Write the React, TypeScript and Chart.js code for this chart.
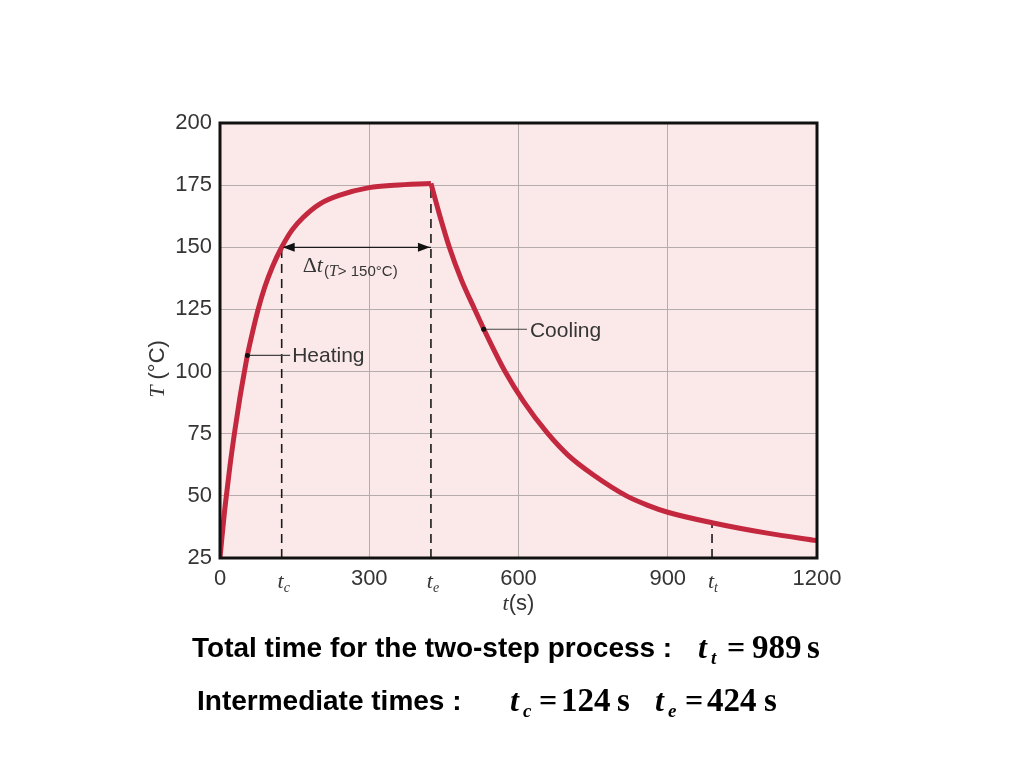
import { useEffect, useRef } from "react";
import { Chart, registerables } from "chart.js";

Chart.register(...registerables);

// ---- data ----
const heatingTime = [0, 4, 9, 14, 20, 30, 40, 50, 55, 65, 76, 90, 105, 124, 145, 167, 201, 241, 300, 350, 424];
const heatingTemp = [25, 33.5, 43.5, 52, 62, 76.5, 89.5, 101, 106.5, 115.5, 124.5, 134, 142, 150, 157, 162, 167.5, 171, 174, 175, 175.7];
const coolingTime = [424, 440, 461, 485, 512, 540, 573, 610, 657, 700, 750, 817, 860, 900, 989, 1100, 1200];
const coolingTemp = [175.7, 164, 150, 137, 125, 113, 100, 88, 75.5, 66.3, 58.5, 50, 46.2, 43.4, 39.2, 35, 32];
const markTimes = [124, 424, 989];
const markTemps = [150, 175.7, 39.2];
const markSubs = ["c", "e", "t"];
const xTickValues = [0, 300, 600, 900, 1200];
const yTickValues = [25, 50, 75, 100, 125, 150, 175, 200];
const heatingLabelAt = { t: 55, T: 106.5, end: 141 };
const coolingLabelAt = { t: 530, T: 117, end: 617 };
const deltaLevel = 150;

const CURVE = "#c3283f";
const BG = "#fbe9ea";
const GRID = "#b5acad";
const TXT = "#353535";
const SANS = "'Liberation Sans', Arial, sans-serif";
const SERIF = "'Liberation Serif', 'Times New Roman', serif";

const pts = (xs: number[], ys: number[]) => xs.map((x, i) => ({ x, y: ys[i] }));

const decor = {
  id: "decor",
  beforeDraw(chart: any) {
    const { ctx, chartArea: a } = chart;
    ctx.save();
    ctx.fillStyle = BG;
    ctx.fillRect(a.left, a.top, a.right - a.left, a.bottom - a.top);
    ctx.restore();
  },
  afterDraw(chart: any) {
    const { ctx, chartArea: a, scales } = chart;
    const xs = scales.x;
    const ys = scales.y;
    ctx.save();
    // frame
    ctx.strokeStyle = "#111";
    ctx.lineWidth = 3;
    ctx.strokeRect(a.left, a.top, a.right - a.left, a.bottom - a.top);

    // arrowheads
    const yA = ys.getPixelForValue(deltaLevel);
    const xL = xs.getPixelForValue(markTimes[0]);
    const xR = xs.getPixelForValue(markTimes[1]);
    ctx.fillStyle = "#111";
    ctx.beginPath();
    ctx.moveTo(xL + 1, yA);
    ctx.lineTo(xL + 13, yA - 4.5);
    ctx.lineTo(xL + 13, yA + 4.5);
    ctx.closePath();
    ctx.fill();
    ctx.beginPath();
    ctx.moveTo(xR - 1, yA);
    ctx.lineTo(xR - 13, yA - 4.5);
    ctx.lineTo(xR - 13, yA + 4.5);
    ctx.closePath();
    ctx.fill();

    ctx.fillStyle = TXT;
    ctx.textBaseline = "alphabetic";
    // t_c, t_e, t_t tick labels
    markTimes.forEach((t, i) => {
      const px = xs.getPixelForValue(t);
      ctx.font = `italic 22px ${SERIF}`;
      ctx.textAlign = "right";
      ctx.fillText("t", px + 2, 588);
      ctx.font = `italic 14px ${SERIF}`;
      ctx.textAlign = "left";
      ctx.fillText(markSubs[i], px + 2, 592);
    });

    // Δt label
    const dx = xs.getPixelForValue(markTimes[0]) + 21;
    ctx.textAlign = "left";
    ctx.font = `22px ${SERIF}`;
    ctx.fillText("Δ", dx, 272);
    let w = ctx.measureText("Δ").width;
    ctx.font = `italic 22px ${SERIF}`;
    ctx.fillText("t", dx + w, 272);
    w += ctx.measureText("t").width + 1;
    ctx.font = `15px ${SANS}`;
    ctx.fillText("(", dx + w, 276);
    w += ctx.measureText("(").width;
    ctx.font = `italic 16px ${SERIF}`;
    ctx.fillText("T", dx + w, 276);
    w += ctx.measureText("T").width;
    ctx.font = `15px ${SANS}`;
    ctx.fillText("> 150°C)", dx + w, 276);

    // Heating / Cooling labels
    ctx.font = `21px ${SANS}`;
    ctx.fillText("Heating", xs.getPixelForValue(heatingLabelAt.end) + 2, ys.getPixelForValue(heatingLabelAt.T) + 7);
    ctx.fillText("Cooling", xs.getPixelForValue(coolingLabelAt.end) + 3, ys.getPixelForValue(coolingLabelAt.T) + 8);

    // x axis title t(s)
    ctx.font = `italic 22px ${SERIF}`;
    const tW = ctx.measureText("t").width;
    ctx.font = `22px ${SANS}`;
    const sW = ctx.measureText("(s)").width;
    const cx = (a.left + a.right) / 2;
    let x0 = cx - (tW + sW) / 2;
    ctx.font = `italic 22px ${SERIF}`;
    ctx.fillText("t", x0, 610);
    ctx.font = `22px ${SANS}`;
    ctx.fillText("(s)", x0 + tW, 610);

    // y axis title T (°C)
    ctx.translate(164, 369);
    ctx.rotate(-Math.PI / 2);
    ctx.font = `italic 22px ${SERIF}`;
    const TW = ctx.measureText("T").width;
    ctx.font = `22px ${SANS}`;
    const CW = ctx.measureText(" (°C)").width;
    x0 = -(TW + CW) / 2;
    ctx.font = `italic 22px ${SERIF}`;
    ctx.fillText("T", x0, 0);
    ctx.font = `22px ${SANS}`;
    ctx.fillText(" (°C)", x0 + TW, 0);
    ctx.restore();
  },
};

export default function App() {
  const ref = useRef<HTMLCanvasElement>(null);
  useEffect(() => {
    if (!ref.current) return;
    const dashed = markTimes.map((t, i) => ({
      data: [
        { x: t, y: 25 },
        { x: t, y: markTemps[i] },
      ],
      borderColor: "#1a1a1a",
      borderWidth: 1.6,
      borderDash: [9, 6],
      pointRadius: 0,
      order: 3,
    }));
    const chart = new Chart(ref.current, {
      type: "line",
      data: {
        datasets: [
          {
            label: "Heating",
            data: pts(heatingTime, heatingTemp),
            borderColor: CURVE,
            borderWidth: 5,
            pointRadius: 0,
            cubicInterpolationMode: "monotone",
            order: 1,
          },
          {
            label: "Cooling",
            data: pts(coolingTime, coolingTemp),
            borderColor: CURVE,
            borderWidth: 5,
            pointRadius: 0,
            cubicInterpolationMode: "monotone",
            order: 1,
          },
          ...dashed,
          {
            data: [
              { x: markTimes[0], y: deltaLevel },
              { x: markTimes[1], y: deltaLevel },
            ],
            borderColor: "#1a1a1a",
            borderWidth: 1.3,
            pointRadius: 0,
            order: 2,
          },
          {
            data: [
              { x: heatingLabelAt.t, y: heatingLabelAt.T },
              { x: heatingLabelAt.end, y: heatingLabelAt.T },
            ],
            borderColor: "#444",
            borderWidth: 1.1,
            pointRadius: [2.5, 0],
            pointBackgroundColor: "#111",
            pointBorderWidth: 0,
            order: 0,
          },
          {
            data: [
              { x: coolingLabelAt.t, y: coolingLabelAt.T },
              { x: coolingLabelAt.end, y: coolingLabelAt.T },
            ],
            borderColor: "#444",
            borderWidth: 1.1,
            pointRadius: [2.5, 0],
            pointBackgroundColor: "#111",
            pointBorderWidth: 0,
            order: 0,
          },
        ] as any,
      },
      options: {
        animation: false,
        responsive: false,
        events: [],
        layout: { padding: { left: 0, top: 123, right: 207, bottom: 0 } },
        plugins: { legend: { display: false }, tooltip: { enabled: false } },
        scales: {
          x: {
            type: "linear",
            min: 0,
            max: 1200,
            afterBuildTicks: (s: any) => {
              s.ticks = xTickValues.map((v) => ({ value: v }));
            },
            afterFit: (s: any) => {
              s.height = 768 - 558;
            },
            grid: { color: GRID, lineWidth: 1, drawTicks: false },
            border: { display: false },
            ticks: {
              padding: 8,
              color: TXT,
              font: { family: SANS, size: 22 },
              maxRotation: 0,
              autoSkip: false,
              callback: (v: any) => String(v),
            },
          },
          y: {
            type: "linear",
            min: 25,
            max: 200,
            afterBuildTicks: (s: any) => {
              s.ticks = yTickValues.map((v) => ({ value: v }));
            },
            afterFit: (s: any) => {
              s.width = 220;
            },
            grid: { color: GRID, lineWidth: 1, drawTicks: false },
            border: { display: false },
            ticks: {
              padding: 8,
              color: TXT,
              font: { family: SANS, size: 22 },
              autoSkip: false,
              callback: (v: any) => String(v),
            },
          },
        },
      },
      plugins: [decor],
    } as any);
    return () => chart.destroy();
  }, []);

  const sans: any = { position: "absolute", fontFamily: SANS, fontWeight: "bold", fontSize: 28, lineHeight: "28px", color: "#000", whiteSpace: "nowrap" };
  const ser = (left: number, top: number, size: number, italic = false, txt = ""): any => (
    <span
      style={{
        position: "absolute",
        left,
        top,
        fontFamily: SERIF,
        fontWeight: "bold",
        fontStyle: italic ? "italic" : "normal",
        fontSize: size,
        lineHeight: `${size}px`,
        color: "#000",
        whiteSpace: "nowrap",
      }}
    >
      {txt}
    </span>
  );

  return (
    <div style={{ position: "absolute", left: 0, top: 0, width: 1024, height: 768, background: "#fff" }}>
      <canvas ref={ref} width={1024} height={768} style={{ position: "absolute", left: 0, top: 0 }} />
      <div style={{ ...sans, left: 192, top: 634 }}>Total time for the two-step process :</div>
      {ser(698, 631, 32, true, "t")}
      {ser(711, 648, 19, true, "t")}
      {ser(727, 631, 32, false, "=")}
      {ser(752, 631, 33, false, "989")}
      {ser(807, 631, 33, false, "s")}
      <div style={{ ...sans, left: 197, top: 687 }}>Intermediate times :</div>
      {ser(510, 684, 32, true, "t")}
      {ser(523, 701, 19, true, "c")}
      {ser(539, 684, 32, false, "=")}
      {ser(561, 684, 33, false, "124")}
      {ser(617, 684, 33, false, "s")}
      {ser(655, 684, 32, true, "t")}
      {ser(668, 701, 19, true, "e")}
      {ser(685, 684, 32, false, "=")}
      {ser(707, 684, 33, false, "424")}
      {ser(764, 684, 33, false, "s")}
    </div>
  );
}
